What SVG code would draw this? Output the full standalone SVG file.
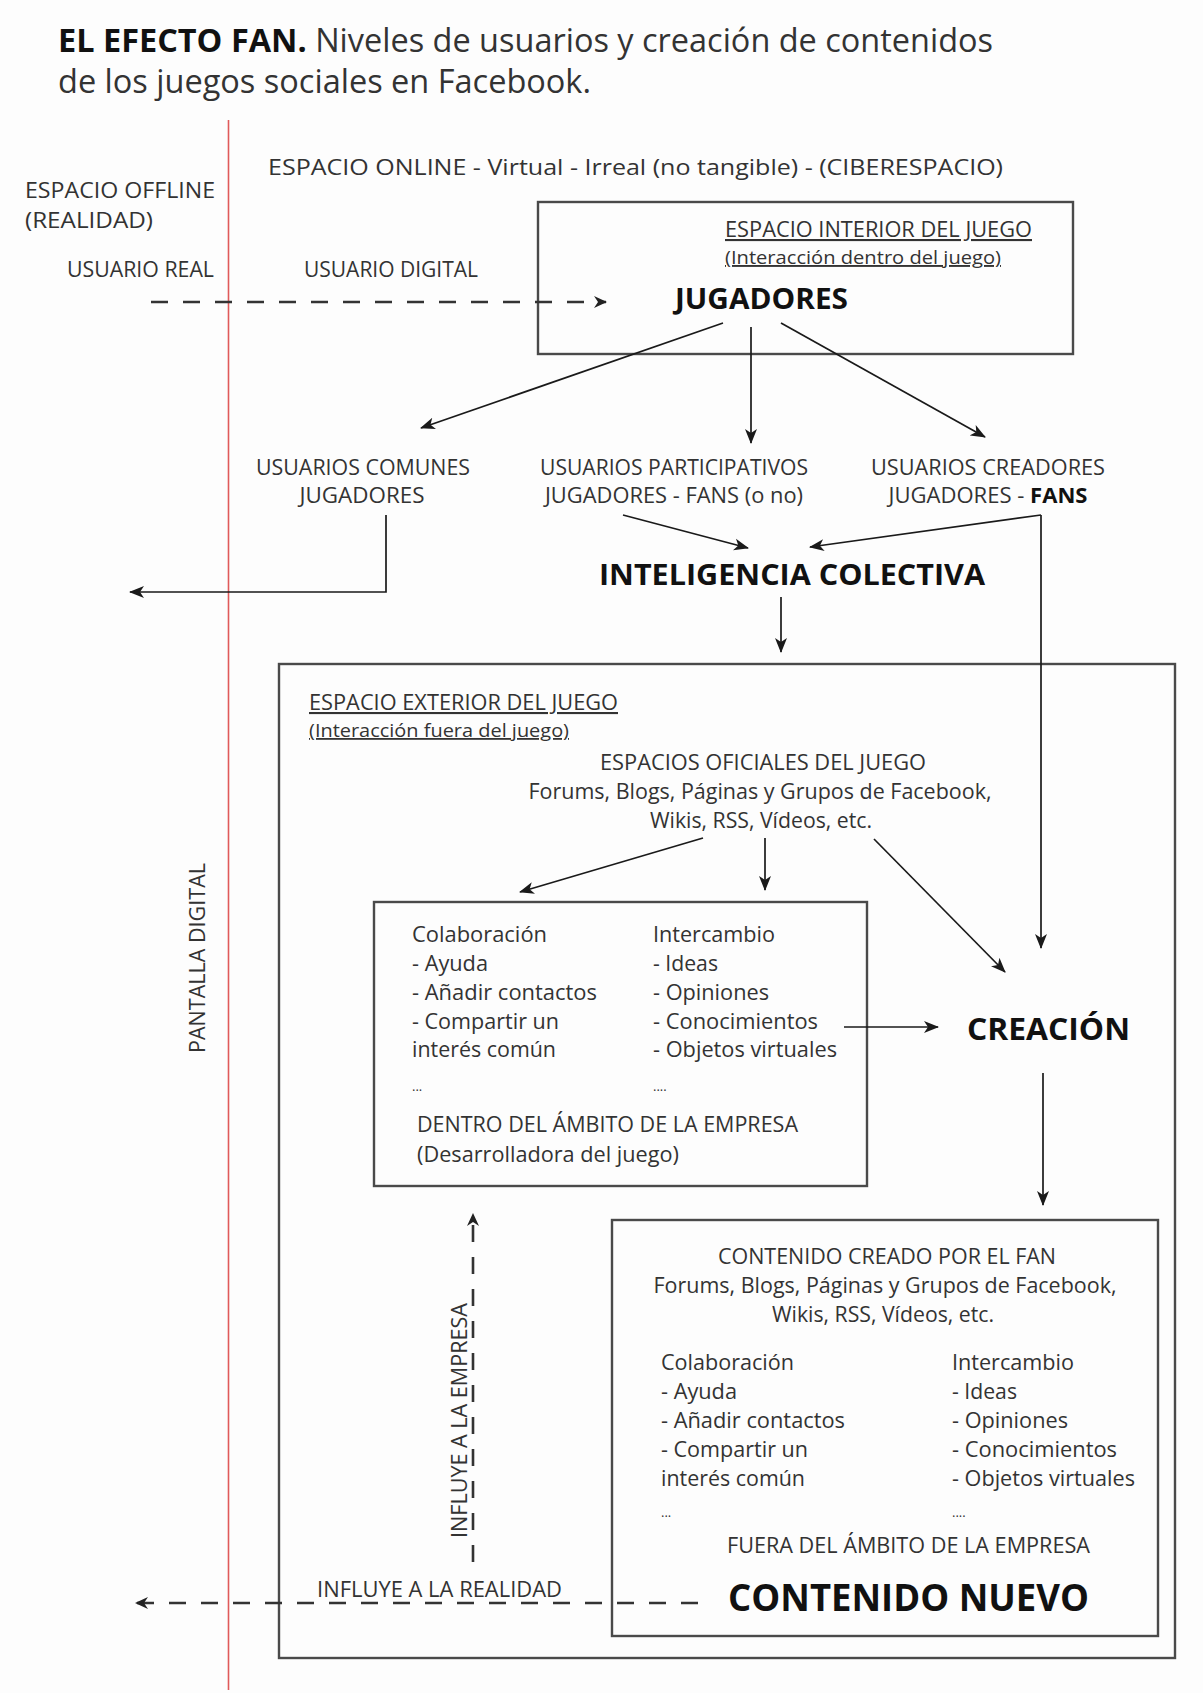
<svg xmlns="http://www.w3.org/2000/svg" width="1203" height="1693" viewBox="0 0 1203 1693">
<defs>
<style>
text{font-family:"Open Sans","Noto Sans","DejaVu Sans",sans-serif;fill:#333;font-size:21px}
.b{font-weight:bold;fill:#111}
.s{font-size:19px}
.u{text-decoration:underline}
.m{text-anchor:middle}
.dots{font-size:13px}
.box{fill:none;stroke:#4a4a4a;stroke-width:2.4}
.ln{fill:none;stroke:#1a1a1a;stroke-width:1.7}
.dash{fill:none;stroke:#333;stroke-width:2.6;stroke-dasharray:17 15}
</style>
<marker id="ah" markerUnits="userSpaceOnUse" markerWidth="16" markerHeight="14" refX="14" refY="7" orient="auto">
<path d="M0,1 L15,7 L0,13 L4,7 Z" fill="#1a1a1a"/>
</marker>
<marker id="ahd" markerUnits="userSpaceOnUse" markerWidth="14" markerHeight="14" refX="12" refY="7" orient="auto">
<path d="M0,1 L13,7 L0,13 L4,7 Z" fill="#222"/>
</marker>
</defs>
<rect width="1203" height="1693" fill="#fdfdfd"/>

<g id="title">
<text x="58" y="52" style="font-size:33px" textLength="935" lengthAdjust="spacingAndGlyphs"><tspan class="b">EL EFECTO FAN.</tspan> Niveles de usuarios y creación de contenidos</text>
<text x="58" y="93" style="font-size:33px" textLength="533" lengthAdjust="spacingAndGlyphs">de los juegos sociales en Facebook.</text>
</g>

<g id="pantalla-digital">
<line x1="228.5" y1="120" x2="228.5" y2="1690" stroke="#e05a5a" stroke-width="1.6"/>
<text transform="translate(205,1053) rotate(-90)" textLength="190" lengthAdjust="spacingAndGlyphs">PANTALLA DIGITAL</text>
</g>

<g id="espacio-offline">
<text x="25" y="198" textLength="190" lengthAdjust="spacingAndGlyphs">ESPACIO OFFLINE</text>
<text x="25" y="228" textLength="128" lengthAdjust="spacingAndGlyphs">(REALIDAD)</text>
<text x="67" y="277" textLength="147" lengthAdjust="spacingAndGlyphs">USUARIO REAL</text>
</g>

<g id="espacio-online">
<text x="268" y="175" textLength="735" lengthAdjust="spacingAndGlyphs">ESPACIO ONLINE - Virtual - Irreal (no tangible) - (CIBERESPACIO)</text>
<text x="304" y="277" textLength="174" lengthAdjust="spacingAndGlyphs">USUARIO DIGITAL</text>
</g>

<g id="espacio-interior">
<rect class="box" x="538" y="202" width="535" height="152"/>
<text class="u" x="725" y="237" textLength="307" lengthAdjust="spacingAndGlyphs">ESPACIO INTERIOR DEL JUEGO</text>
<text class="u s" x="725" y="264" textLength="276" lengthAdjust="spacingAndGlyphs">(Interacción dentro del juego)</text>
<text class="b" x="675" y="309" style="font-size:28px" textLength="173" lengthAdjust="spacingAndGlyphs">JUGADORES</text>
</g>

<g id="usuarios-comunes">
<text class="m" x="363" y="475" textLength="214" lengthAdjust="spacingAndGlyphs">USUARIOS COMUNES</text>
<text class="m" x="362" y="503" textLength="125" lengthAdjust="spacingAndGlyphs">JUGADORES</text>
</g>

<g id="usuarios-participativos">
<text class="m" x="674" y="475" textLength="268" lengthAdjust="spacingAndGlyphs">USUARIOS PARTICIPATIVOS</text>
<text class="m" x="674" y="503" textLength="258" lengthAdjust="spacingAndGlyphs">JUGADORES - FANS (o no)</text>
</g>

<g id="usuarios-creadores">
<text class="m" x="988" y="475" textLength="234" lengthAdjust="spacingAndGlyphs">USUARIOS CREADORES</text>
<text class="m" x="988" y="503" textLength="199" lengthAdjust="spacingAndGlyphs">JUGADORES - <tspan class="b">FANS</tspan></text>
</g>

<g id="inteligencia-colectiva">
<text class="b" x="599" y="585" style="font-size:29px" textLength="386" lengthAdjust="spacingAndGlyphs">INTELIGENCIA COLECTIVA</text>
</g>

<g id="espacio-exterior">
<rect class="box" x="279" y="664" width="896" height="994"/>
<text class="u" x="309" y="710" textLength="309" lengthAdjust="spacingAndGlyphs">ESPACIO EXTERIOR DEL JUEGO</text>
<text class="u" x="309" y="737" style="font-size:18px" textLength="260" lengthAdjust="spacingAndGlyphs">(Interacción fuera del juego)</text>
</g>

<g id="espacios-oficiales">
<text class="m" x="763" y="770" textLength="326" lengthAdjust="spacingAndGlyphs">ESPACIOS OFICIALES DEL JUEGO</text>
<text class="m" x="760" y="799" textLength="463" lengthAdjust="spacingAndGlyphs">Forums, Blogs, Páginas y Grupos de Facebook,</text>
<text class="m" x="761" y="828" textLength="222" lengthAdjust="spacingAndGlyphs">Wikis, RSS, Vídeos, etc.</text>
</g>

<g id="dentro-empresa">
<rect class="box" x="374" y="902" width="493" height="284"/>
<text x="412" y="942" textLength="135" lengthAdjust="spacingAndGlyphs">Colaboración</text>
<text x="412" y="971" textLength="76" lengthAdjust="spacingAndGlyphs">- Ayuda</text>
<text x="412" y="1000" textLength="185" lengthAdjust="spacingAndGlyphs">- Añadir contactos</text>
<text x="412" y="1029" textLength="147" lengthAdjust="spacingAndGlyphs">- Compartir un</text>
<text x="412" y="1057" textLength="144" lengthAdjust="spacingAndGlyphs">interés común</text>
<text class="dots" x="412" y="1091">...</text>
<text x="653" y="942" textLength="122" lengthAdjust="spacingAndGlyphs">Intercambio</text>
<text x="653" y="971" textLength="65" lengthAdjust="spacingAndGlyphs">- Ideas</text>
<text x="653" y="1000" textLength="116" lengthAdjust="spacingAndGlyphs">- Opiniones</text>
<text x="653" y="1029" textLength="165" lengthAdjust="spacingAndGlyphs">- Conocimientos</text>
<text x="653" y="1057" textLength="184" lengthAdjust="spacingAndGlyphs">- Objetos virtuales</text>
<text class="dots" x="653" y="1091">....</text>
<text x="417" y="1132" textLength="381" lengthAdjust="spacingAndGlyphs">DENTRO DEL ÁMBITO DE LA EMPRESA</text>
<text x="417" y="1162" textLength="262" lengthAdjust="spacingAndGlyphs">(Desarrolladora del juego)</text>
</g>

<g id="creacion">
<text class="b" x="967" y="1040" style="font-size:31px" textLength="163" lengthAdjust="spacingAndGlyphs">CREACIÓN</text>
</g>

<g id="contenido-fan">
<rect class="box" x="612" y="1220" width="546" height="416"/>
<text class="m" x="887" y="1264" textLength="338" lengthAdjust="spacingAndGlyphs">CONTENIDO CREADO POR EL FAN</text>
<text class="m" x="885" y="1293" textLength="463" lengthAdjust="spacingAndGlyphs">Forums, Blogs, Páginas y Grupos de Facebook,</text>
<text class="m" x="883" y="1322" textLength="222" lengthAdjust="spacingAndGlyphs">Wikis, RSS, Vídeos, etc.</text>
<text x="661" y="1370" textLength="133" lengthAdjust="spacingAndGlyphs">Colaboración</text>
<text x="661" y="1399" textLength="76" lengthAdjust="spacingAndGlyphs">- Ayuda</text>
<text x="661" y="1428" textLength="184" lengthAdjust="spacingAndGlyphs">- Añadir contactos</text>
<text x="661" y="1457" textLength="147" lengthAdjust="spacingAndGlyphs">- Compartir un</text>
<text x="661" y="1486" textLength="144" lengthAdjust="spacingAndGlyphs">interés común</text>
<text class="dots" x="661" y="1517">...</text>
<text x="952" y="1370" textLength="122" lengthAdjust="spacingAndGlyphs">Intercambio</text>
<text x="952" y="1399" textLength="65" lengthAdjust="spacingAndGlyphs">- Ideas</text>
<text x="952" y="1428" textLength="116" lengthAdjust="spacingAndGlyphs">- Opiniones</text>
<text x="952" y="1457" textLength="165" lengthAdjust="spacingAndGlyphs">- Conocimientos</text>
<text x="952" y="1486" textLength="183" lengthAdjust="spacingAndGlyphs">- Objetos virtuales</text>
<text class="dots" x="952" y="1517">....</text>
<text x="727" y="1553" textLength="363" lengthAdjust="spacingAndGlyphs">FUERA DEL ÁMBITO DE LA EMPRESA</text>
<text class="b" x="728" y="1611" style="font-size:37px" textLength="361" lengthAdjust="spacingAndGlyphs">CONTENIDO NUEVO</text>
</g>

<g id="connectors">
<line class="dash" x1="151" y1="302" x2="606" y2="302" marker-end="url(#ahd)"/>
<line class="ln" x1="723" y1="323" x2="421" y2="428" marker-end="url(#ah)"/>
<line class="ln" x1="751" y1="327" x2="751" y2="443" marker-end="url(#ah)"/>
<line class="ln" x1="781" y1="323" x2="985" y2="437" marker-end="url(#ah)"/>
<polyline class="ln" points="386,515 386,592 130,592" marker-end="url(#ah)"/>
<line class="ln" x1="623" y1="515" x2="748" y2="548" marker-end="url(#ah)"/>
<line class="ln" x1="1041" y1="515" x2="810" y2="547" marker-end="url(#ah)"/>
<line class="ln" x1="1041" y1="515" x2="1041" y2="948" marker-end="url(#ah)"/>
<line class="ln" x1="781" y1="597" x2="781" y2="652" marker-end="url(#ah)"/>
<line class="ln" x1="703" y1="838" x2="520" y2="892" marker-end="url(#ah)"/>
<line class="ln" x1="765" y1="838" x2="765" y2="890" marker-end="url(#ah)"/>
<line class="ln" x1="874" y1="839" x2="1005" y2="972" marker-end="url(#ah)"/>
<line class="ln" x1="844" y1="1027" x2="938" y2="1027" marker-end="url(#ah)"/>
<line class="ln" x1="1043" y1="1073" x2="1043" y2="1205" marker-end="url(#ah)"/>
<line class="dash" x1="698" y1="1603" x2="136" y2="1603" marker-end="url(#ahd)"/>
<line class="dash" x1="473" y1="1562" x2="473" y2="1214" marker-end="url(#ahd)"/>
<text x="317" y="1597" textLength="245" lengthAdjust="spacingAndGlyphs">INFLUYE A LA REALIDAD</text>
<text transform="translate(467,1538) rotate(-90)" textLength="235" lengthAdjust="spacingAndGlyphs">INFLUYE A LA EMPRESA</text>
</g>
</svg>
